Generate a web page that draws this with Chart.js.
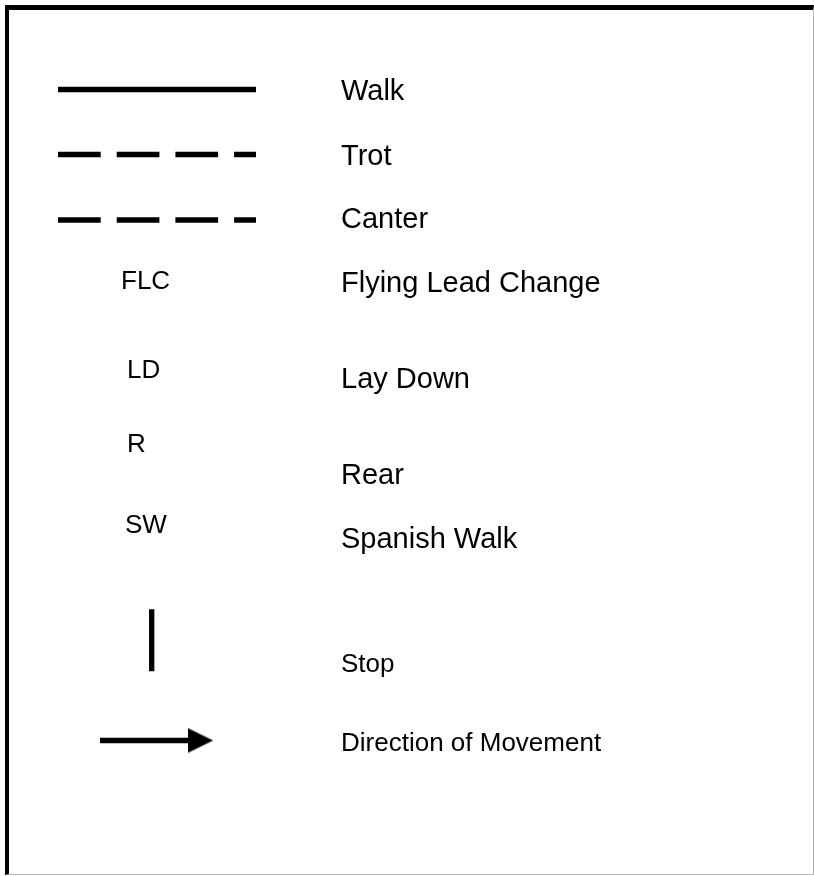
<!DOCTYPE html>
<html>
<head>
<meta charset="utf-8">
<script src="https://cdn.jsdelivr.net/npm/chart.js@4/dist/chart.umd.min.js"></script>
<style>
  body { margin: 0; background: #fff; }
  #frame {
    position: absolute; left: 5px; top: 5px; width: 809px; height: 870px;
    box-sizing: border-box;
    border-top: 5px solid #000; border-left: 4px solid #000;
    border-right: 1px solid #b4b4b4; border-bottom: 1px solid #b4b4b4;
  }
  #legend-chart { position: absolute; left: 0; top: 0; }
</style>
</head>
<body>
<div id="frame"></div>
<canvas id="legend-chart" width="814" height="876"></canvas>
<script>
// legend entries and the row (baseline) each one sits on, in legend units
const entries = ['Walk', 'Trot', 'Canter', 'Flying Lead Change', 'Lay Down', 'Rear', 'Spanish Walk', 'Stop', 'Direction of Movement'];
const entryRows = [100, 165, 228.3, 291.7, 388.3, 484, 547.7, 671.7, 750.7];

// abbreviation symbols
const abbrevs = ['FLC', 'LD', 'R', 'SW'];
const abbrevRows = [289.3, 378.3, 452.3, 532.7];
const abbrevCols = [121, 127, 127, 125];

// gait sample lines: walk, trot, canter
const gaitRows = [89.5, 154.5, 220];
const gaitSpan = [58, 256];

// stop bar and direction arrow
const stopCol = 151.7;
const stopSpan = [609.3, 671.3];
const arrowRow = 740.5;
const arrowSpan = [100, 188];
const arrowHeadCol = 200.6;

const textCol = 341;

function arrowHead() {
    const c = document.createElement('canvas');
    c.width = 26;
    c.height = 26;
    const g = c.getContext('2d');
    g.fillStyle = '#000';
    g.beginPath();
    g.moveTo(0, 0.5);
    g.lineTo(25.5, 13);
    g.lineTo(0, 25.5);
    g.closePath();
    g.fill();
    return c;
}

const lineStyle = { showLine: true, borderColor: '#000', pointRadius: 0, borderCapStyle: 'butt' };

const datasets = [
    { ...lineStyle, borderWidth: 5.6, data: gaitSpan.map(x => ({ x, y: gaitRows[0] })) },
    { ...lineStyle, borderWidth: 5.6, borderDash: [42.7, 16], data: gaitSpan.map(x => ({ x, y: gaitRows[1] })) },
    { ...lineStyle, borderWidth: 5.6, borderDash: [42.7, 16], data: gaitSpan.map(x => ({ x, y: gaitRows[2] })) },
    { ...lineStyle, borderWidth: 5.3, data: stopSpan.map(y => ({ x: stopCol, y })) },
    { ...lineStyle, borderWidth: 5.6, data: arrowSpan.map(x => ({ x, y: arrowRow })) },
    {
        data: [{ x: arrowHeadCol, y: arrowRow }],
        pointStyle: arrowHead(), pointRadius: 13, backgroundColor: '#000', borderWidth: 0
    }
];

const textPlugin = {
    id: 'legendText',
    afterDatasetsDraw(chart) {
        const ctx = chart.ctx;
        const xs = chart.scales.x, ys = chart.scales.y;
        ctx.save();
        ctx.fillStyle = '#000';
        ctx.textAlign = 'left';
        ctx.textBaseline = 'alphabetic';
        entries.forEach((label, i) => {
            ctx.font = (i < 7 ? '29px' : '26px') + ' "Liberation Sans", Arial, sans-serif';
            ctx.fillText(label, xs.getPixelForValue(textCol), ys.getPixelForValue(entryRows[i]));
        });
        ctx.font = '26px "Liberation Sans", Arial, sans-serif';
        abbrevs.forEach((label, i) => {
            ctx.fillText(label, xs.getPixelForValue(abbrevCols[i]), ys.getPixelForValue(abbrevRows[i]));
        });
        ctx.restore();
    }
};

new Chart(document.getElementById('legend-chart').getContext('2d'), {
    type: 'scatter',
    data: { datasets },
    options: {
        responsive: false,
        animation: false,
        layout: { padding: 0, autoPadding: false },
        plugins: { legend: { display: false }, tooltip: { enabled: false } },
        scales: {
            x: { type: 'linear', min: 0, max: 814, display: false },
            y: { type: 'linear', min: 0, max: 876, reverse: true, display: false }
        }
    },
    plugins: [textPlugin]
});
</script>
</body>
</html>
